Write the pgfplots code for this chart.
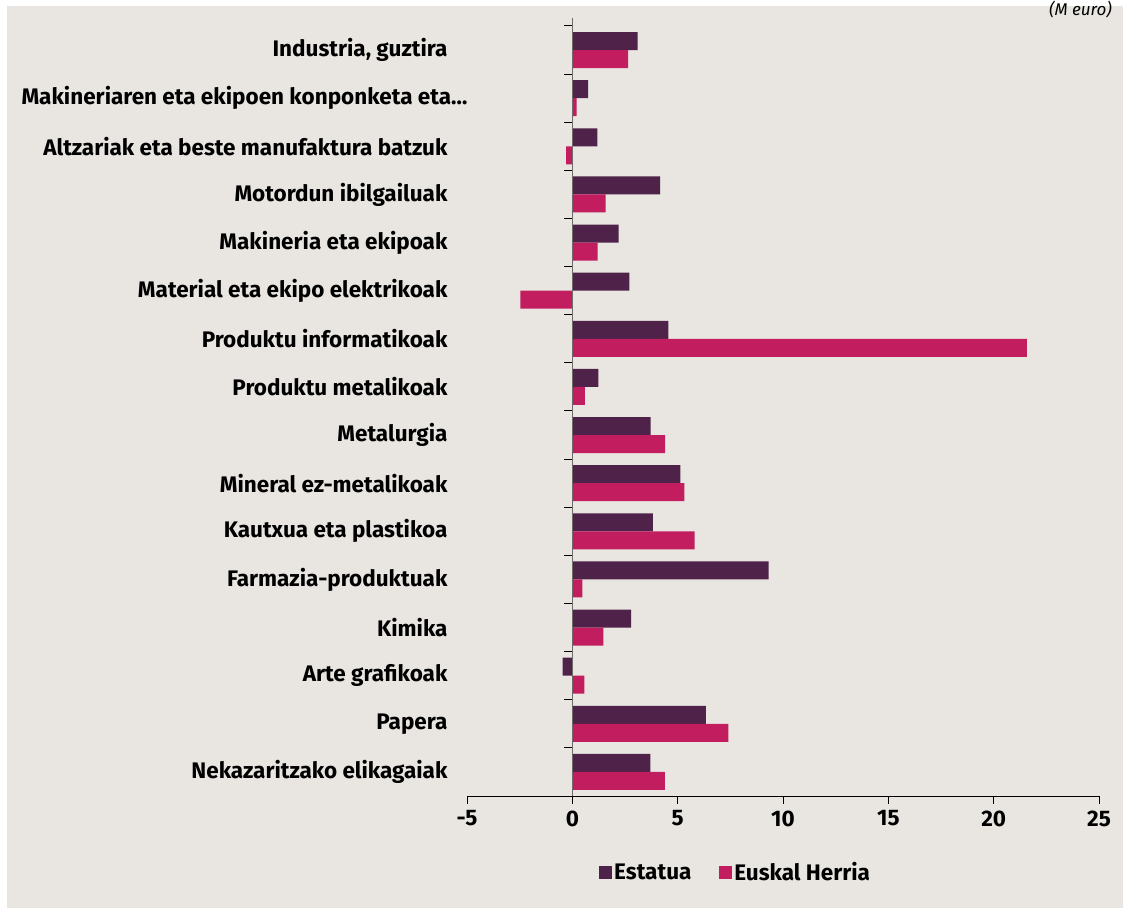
\documentclass[border=0pt]{standalone}
\usepackage{pgfplots}
\pgfplotsset{compat=1.18}
\usepackage{fontspec}
\setmainfont{Fira Sans}
\definecolor{bg}{HTML}{E9E6E1}
\definecolor{estatua}{HTML}{4E2249}
\definecolor{euskal}{HTML}{C21D5E}
\definecolor{axgray}{HTML}{6E6A68}
\begin{document}
\begin{tikzpicture}[x=1pt,y=1pt]
\path[use as bounding box] (0,0) rectangle (1123,908);
\fill[bg] (7,0) rectangle (1123,902);
\node[anchor=north east, inner sep=0pt, font=\itshape\fontsize{17}{19}\selectfont] at (1112,907) {(M euro)};
\begin{axis}[
  at={(467pt,112pt)}, anchor=south west,
  scale only axis, width=632pt, height=770pt,
  xmin=-5, xmax=25, ymin=-0.5, ymax=15.5,
  xbar, bar width=18pt,
  axis x line=bottom, axis y line=left,
  y axis line style={draw=none},
  axis line style={black, line width=1pt, -},
  xtick={-5,0,5,10,15,20,25},
  tick align=outside,
  x tick style={black, line width=1pt},
  y tick style={draw=none},
  major tick length=8pt,
  xticklabel style={font=\bfseries\fontsize{22.5}{24}\selectfont, yshift=-3pt},
  yticklabel style={font=\bfseries\fontsize{22.5}{24}\selectfont, xshift=-8pt},
  /pgf/number format/assume math mode=true,
  ytick={0,1,2,3,4,5,6,7,8,9,10,11,12,13,14,15},
  yticklabels={{Nekazaritzako elikagaiak}, {Papera}, {Arte grafikoak}, {Kimika}, {Farmazia-produktuak}, {Kautxua eta plastikoa}, {Mineral ez-metalikoak}, {Metalurgia}, {Produktu metalikoak}, {Produktu informatikoak}, {Material eta ekipo elektrikoak}, {Makineria eta ekipoak}, {Motordun ibilgailuak}, {Altzariak eta beste manufaktura batzuk}, {Makineriaren eta ekipoen konponketa eta\ldots\kern-20pt}, {Industria, guztira}},
  legend style={at={(0.425,-0.099)}, anchor=center, draw=none, fill=none,
    legend columns=2, font=\bfseries\fontsize{22.5}{24}\selectfont,
    /tikz/every even column/.append style={column sep=26pt}},
  legend image code/.code={\fill[#1,draw=none] (0pt,-6.5pt) rectangle (13pt,6.5pt);},
  clip=false,
]
\addplot[fill=estatua, draw=none, bar shift=9pt] coordinates {
(3.71,0) (6.34,1) (-0.46,2) (2.79,3) (9.32,4) (3.82,5) (5.13,6) (3.72,7) (1.24,8) (4.56,9) (2.71,10) (2.20,11) (4.17,12) (1.19,13) (0.75,14) (3.10,15)};
\addlegendentry{Estatua}
\addplot[fill=euskal, draw=none, bar shift=-9pt] coordinates {
(4.39,0) (7.41,1) (0.57,2) (1.47,3) (0.48,4) (5.81,5) (5.32,6) (4.40,7) (0.60,8) (21.58,9) (-2.47,10) (1.20,11) (1.58,12) (-0.30,13) (0.20,14) (2.65,15)};
\addlegendentry{Euskal Herria}
\draw[axgray, line width=1.5pt] (axis cs:0,-0.5) -- (axis cs:0,15.5) -- ([yshift=8pt]axis cs:0,15.5);
\pgfplotsinvokeforeach{0,...,16}{\draw[black, line width=1pt] (axis cs:0,#1-0.5) -- ([xshift=-8pt]axis cs:0,#1-0.5);}
\end{axis}
\end{tikzpicture}
\end{document}
